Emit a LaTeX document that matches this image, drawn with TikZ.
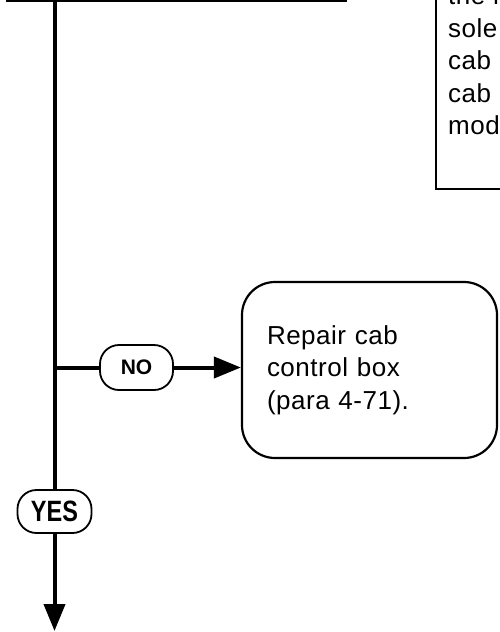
\documentclass[tikz,border=0pt]{standalone}
\usepackage{fontspec}
\usepackage{graphicx}
\usetikzlibrary{arrows.meta, calc, positioning}
\newfontfamily\flowfont[LetterSpace=2]{Liberation Sans}
\newfontfamily\pillfont{Liberation Sans}

\begin{document}
\begin{tikzpicture}[
  x=1pt, y=-1pt,
  flowline/.style={
    draw=black, line width=4pt
  },
  flowarrow/.style={
    flowline, -{Triangle[length=27pt, width=21pt]}
  },
  answerpill/.style={
    rectangle, rounded corners=19pt, draw=black, fill=white,
    line width=1.8pt, inner sep=0pt,
    font=\pillfont\bfseries\fontsize{21}{24}\selectfont
  },
  actionbox/.style={
    rectangle, rounded corners=33pt, draw=black, fill=white,
    line width=2.2pt, inner xsep=25pt, inner ysep=0pt,
    minimum width=255pt, minimum height=176pt, text width=205pt,
    align=left, font=\flowfont\fontsize{26}{32.5}\selectfont
  },
  notetext/.style={
    inner sep=0pt, font=\flowfont\fontsize{26}{32.5}\selectfont
  }
]

\useasboundingbox (0,0) rectangle (500,632);
\clip (0,0) rectangle (500,632);

% ============================================================
% Right: step box, cut off by the page edge
% ============================================================
\node[draw=black, line width=2.2pt, inner sep=0pt, anchor=south west,
      minimum width=100pt, minimum height=230pt] (notebox) at (435,190) {};

\foreach \ln [count=\i] in {the r, sole, cab, cab, mod} {
  \node[notetext, anchor=base west] (note\i) at (448,{4.5+32.6*(\i-1)}) {\ln};
}

% ============================================================
% Left: main trunk and answer pills
% ============================================================
\coordinate (topleft) at (6,0);
\coordinate (topright) at (347,0);
\coordinate (trunktop) at (54.5,0);
\coordinate (branch) at (54.5,367.5);
\coordinate (trunkend) at (54.5,631);

\draw[flowline] (topleft) -- (topright);

\node[answerpill, minimum width=73pt, minimum height=45pt]
  (nopill) at (136.5,367.5) {NO};
\node[answerpill, minimum width=74pt, minimum height=43pt]
  (yespill) at (54.5,511.5) {\fontsize{23.5}{26}\selectfont\scalebox{1}[1.25]{YES}};

% Repair step
\node[actionbox] (repair) at (369.5,370)
  {Repair cab\\control box\\(para 4-71).};

% ============================================================
% Connectors
% ============================================================
\draw[flowline] (trunktop) -- (yespill.north);
\draw[flowarrow] (yespill.south) -- (trunkend);
\draw[flowline] (branch) -- (nopill.west);
\draw[flowarrow] (nopill.east) -- (nopill.east -| repair.west);

\end{tikzpicture}
\end{document}
